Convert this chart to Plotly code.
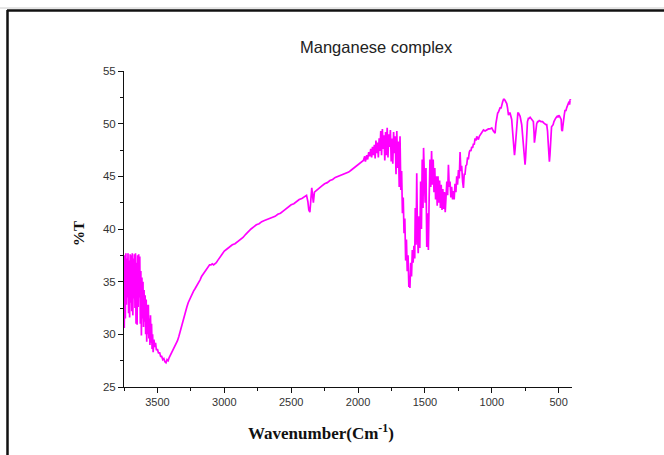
import plotly.graph_objects as go

# IR spectrum of the manganese complex
wavenumber = [
    3748, 3744, 3740, 3736, 3732, 3728, 3724, 3720, 3716, 3712, 3708, 3704, 3700, 3696, 3692, 3688,
    3684, 3680, 3676, 3672, 3668, 3664, 3660, 3656, 3652, 3648, 3644, 3640, 3636, 3632, 3628, 3624,
    3620, 3616, 3612, 3608, 3604, 3600, 3596, 3592, 3588, 3584, 3580, 3576, 3572, 3568, 3564, 3560,
    3556, 3552, 3548, 3544, 3540, 3536, 3532, 3526, 3520, 3514, 3508, 3500, 3492, 3484, 3476, 3468,
    3460, 3452, 3444, 3436, 3428, 3420, 3412, 3404, 3396, 3388, 3380, 3370, 3360, 3350, 3340, 3330,
    3320, 3310, 3300, 3290, 3280, 3270, 3260, 3250, 3240, 3230, 3220, 3210, 3200, 3190, 3180, 3170,
    3160, 3150, 3140, 3130, 3120, 3110, 3100, 3090, 3080, 3070, 3060, 3050, 3040, 3030, 3020, 3010,
    3000, 2980, 2960, 2940, 2920, 2900, 2880, 2860, 2840, 2820, 2800, 2780, 2760, 2740, 2720, 2700,
    2680, 2660, 2640, 2620, 2600, 2580, 2560, 2540, 2520, 2500, 2480, 2460, 2440, 2420, 2400, 2385,
    2375, 2368, 2360, 2352, 2346, 2340, 2334, 2326, 2310, 2290, 2270, 2250, 2230, 2210, 2190, 2170,
    2150, 2130, 2110, 2090, 2070, 2050, 2030, 2010, 1990, 1975, 1960, 1950, 1945, 1935, 1928, 1920,
    1912, 1905, 1898, 1892, 1885, 1878, 1872, 1866, 1860, 1854, 1848, 1842, 1836, 1830, 1824, 1818,
    1812, 1806, 1800, 1794, 1788, 1782, 1776, 1770, 1764, 1758, 1752, 1746, 1740, 1734, 1728, 1722,
    1716, 1710, 1704, 1698, 1692, 1686, 1680, 1674, 1668, 1662, 1656, 1650, 1644, 1638, 1632, 1626,
    1620, 1616, 1612, 1606, 1600, 1594, 1588, 1582, 1576, 1572, 1566, 1561, 1556, 1550, 1544, 1538,
    1532, 1526, 1520, 1514, 1510, 1504, 1498, 1492, 1486, 1480, 1474, 1468, 1462, 1456, 1450, 1444,
    1438, 1432, 1426, 1420, 1414, 1408, 1402, 1396, 1390, 1384, 1378, 1372, 1366, 1360, 1354, 1348,
    1342, 1336, 1330, 1324, 1318, 1312, 1306, 1300, 1293, 1287, 1281, 1275, 1268, 1262, 1256, 1249,
    1243, 1237, 1231, 1225, 1218, 1212, 1206, 1200, 1194, 1187, 1181, 1175, 1168, 1162, 1156, 1150,
    1143, 1137, 1131, 1125, 1118, 1112, 1106, 1100, 1093, 1087, 1081, 1075, 1068, 1062, 1050, 1038,
    1025, 1013, 1000, 988, 982, 975, 969, 963, 956, 950, 944, 938, 930, 924, 918, 912,
    906, 900, 894, 888, 882, 875, 869, 863, 857, 851, 845, 840, 835, 830, 826, 820,
    815, 810, 805, 800, 794, 788, 782, 776, 770, 765, 760, 755, 751, 747, 742, 738,
    733, 726, 720, 713, 707, 701, 695, 689, 684, 681, 677, 673, 668, 664, 657, 651,
    645, 639, 632, 626, 620, 614, 607, 601, 595, 589, 583, 578, 574, 569, 565, 561,
    557, 553, 547, 541, 535, 529, 523, 517, 511, 505, 499, 493, 487, 481, 477, 472,
    468, 464, 458, 452, 446, 440, 434, 428, 422, 418, 414, 410,
]

transmittance = [
    30.6, 37.5, 31.5, 37.7, 32.8, 37.2, 33.5, 37.7, 32.0, 37.0, 31.6, 37.6, 33.0, 37.5, 32.2, 37.7,
    31.8, 37.2, 33.4, 37.6, 32.5, 37.7, 31.0, 36.8, 30.9, 37.5, 32.6, 37.6, 33.5, 37.4, 31.0, 36.0,
    29.9, 35.4, 31.5, 35.0, 30.7, 34.2, 31.2, 33.7, 30.0, 33.3, 29.3, 32.8, 30.0, 32.8, 29.6, 31.5,
    29.0, 31.8, 29.2, 31.0, 28.6, 30.0, 28.3, 29.5, 28.8, 29.2, 28.5, 28.6, 28.2, 28.3, 27.9, 27.9,
    27.6, 27.7, 27.4, 27.3, 27.6, 27.5, 27.8, 28.0, 28.2, 28.5, 28.7, 29.0, 29.1, 29.4, 29.8, 30.3,
    30.8, 31.3, 31.7, 32.1, 32.6, 33.0, 33.3, 33.6, 33.9, 34.1, 34.3, 34.5, 34.7, 35.0, 35.2, 35.5,
    35.7, 35.9, 36.1, 36.3, 36.5, 36.6, 36.6, 36.7, 36.6, 36.7, 36.8, 37.0, 37.2, 37.4, 37.6, 37.7,
    37.9, 38.1, 38.3, 38.5, 38.6, 38.8, 39.0, 39.2, 39.5, 39.8, 40.0, 40.2, 40.4, 40.5, 40.7, 40.8,
    40.9, 41.0, 41.1, 41.2, 41.4, 41.5, 41.7, 41.9, 42.1, 42.3, 42.4, 42.6, 42.8, 42.9, 43.1, 43.2,
    42.6, 41.8, 41.6, 42.8, 43.9, 43.2, 42.5, 43.5, 43.7, 43.9, 44.1, 44.3, 44.4, 44.6, 44.7, 44.9,
    45.0, 45.1, 45.2, 45.3, 45.4, 45.6, 45.8, 46.0, 46.2, 46.4, 46.5, 46.9, 46.4, 47.0, 46.6, 47.3,
    46.9, 47.6, 46.8, 47.8, 47.0, 48.0, 46.7, 48.4, 47.2, 48.2, 46.8, 48.6, 47.4, 49.3, 47.0, 49.5,
    47.6, 48.9, 46.5, 49.2, 47.0, 49.6, 46.8, 49.0, 47.8, 49.4, 46.4, 48.6, 46.2, 49.2, 47.2, 48.8,
    45.2, 49.3, 45.8, 48.3, 44.0, 48.8, 43.7, 45.5, 41.5, 43.0, 39.6, 41.0, 37.0, 39.0, 36.0, 37.5,
    34.5, 35.2, 34.4, 36.8, 35.5, 38.0, 36.8, 38.4, 37.2, 42.0, 38.5, 45.3, 40.0, 37.7, 41.2, 38.2,
    44.5, 40.0, 46.6, 42.0, 47.7, 44.0, 42.5, 45.8, 38.3, 41.5, 38.0, 43.0, 46.6, 44.0, 47.4, 44.2,
    46.6, 43.5, 45.8, 42.8, 45.0, 42.2, 45.0, 42.5, 44.6, 42.0, 44.2, 41.8, 43.8, 41.9, 43.5, 41.6,
    43.8, 44.5, 43.2, 46.1, 44.0, 44.5, 43.0, 44.0, 42.8, 43.6, 42.8, 44.3, 43.5, 45.0, 44.2, 45.6,
    44.8, 47.3, 45.5, 46.0, 44.5, 43.9, 45.2, 45.2, 46.0, 46.1, 46.8, 46.6, 47.3, 47.5, 47.4, 47.8,
    47.7, 48.1, 48.0, 48.6, 48.4, 48.8, 48.6, 48.5, 48.8, 48.9, 49.0, 49.1, 49.2, 49.4, 49.3, 49.4,
    49.5, 49.5, 49.6, 49.3, 49.2, 49.1, 50.0, 50.8, 51.0, 51.1, 51.3, 51.5, 51.5, 51.9, 52.1, 52.3,
    52.3, 52.2, 52.0, 51.9, 51.5, 50.8, 51.0, 51.0, 50.7, 50.4, 49.4, 48.2, 47.2, 47.0, 47.5, 48.5,
    49.8, 50.5, 51.0, 51.0, 50.9, 50.7, 50.3, 49.9, 49.0, 48.0, 47.0, 46.4, 46.1, 46.8, 48.3, 49.6,
    50.2, 50.5, 50.5, 50.6, 50.5, 50.5, 50.4, 50.2, 49.2, 48.2, 48.6, 49.0, 49.7, 50.0, 50.2, 50.2,
    50.3, 50.2, 50.2, 50.2, 50.2, 50.1, 50.0, 50.0, 49.9, 49.9, 49.3, 48.2, 47.2, 46.4, 47.0, 48.0,
    49.0, 49.7, 49.8, 49.9, 50.2, 50.4, 50.5, 50.6, 50.7, 50.6, 50.8, 50.7, 50.6, 50.4, 49.4, 49.3,
    49.8, 50.4, 50.8, 51.3, 51.2, 51.5, 51.7, 51.9, 52.1, 51.8, 52.3, 52.2,
]

x_tick_values = [3500, 3000, 2500, 2000, 1500, 1000, 500]
y_tick_values = [25, 30, 35, 40, 45, 50, 55]

title_text = "Manganese complex"
x_title = "Wavenumber(Cm<sup>-1</sup>)"
y_title = "%T"

fig = go.Figure()
fig.add_trace(go.Scatter(
    x=wavenumber, y=transmittance, mode="lines",
    line=dict(color="#ff00ff", width=1.7),
    hoverinfo="skip", showlegend=False,
))

L, R, T, B = 124, 92, 71, 68
W, H = 664, 455
pw, ph = W - L - R, H - T - B

def px(xp):
    return (xp - L) / pw

def py(yp):
    return (H - B - yp) / ph

fig.update_layout(
    width=W, height=H,
    margin=dict(l=L, r=R, t=T, b=B, pad=0),
    paper_bgcolor="white", plot_bgcolor="white",
    font=dict(family="Liberation Sans, Arial, sans-serif", color="#222222"),
    xaxis=dict(
        range=[3750, 400], autorange=False,
        tickmode="array", tickvals=x_tick_values,
        ticks="outside", ticklen=5, tickwidth=1, tickcolor="#111",
        minor=dict(dtick=250, tick0=250, ticks="outside", ticklen=3, tickcolor="#111"),
        showline=True, linecolor="#111", linewidth=1,
        showgrid=False, zeroline=False,
        tickfont=dict(size=11, color="#333"),
    ),
    yaxis=dict(
        range=[25, 55], autorange=False,
        tickmode="array", tickvals=y_tick_values,
        ticks="outside", ticklen=5, tickwidth=1, tickcolor="#111",
        minor=dict(dtick=2.5, tick0=0, ticks="outside", ticklen=3, tickcolor="#111"),
        showline=True, linecolor="#111", linewidth=1,
        showgrid=False, zeroline=False,
        tickfont=dict(size=11.5, color="#333"),
    ),
    shapes=[
        dict(type="line", xref="paper", yref="paper",
             x0=px(0), x1=px(W), y0=py(8), y1=py(8),
             line=dict(color="#cccccc", width=1)),
        dict(type="line", xref="paper", yref="paper",
             x0=px(7), x1=px(W + 10), y0=py(10.5), y1=py(10.5),
             line=dict(color="#111111", width=2.5)),
        dict(type="line", xref="paper", yref="paper",
             x0=px(7.5), x1=px(7.5), y0=py(10), y1=py(H + 10),
             line=dict(color="#111111", width=2.5)),
    ],
    annotations=[
        dict(text=title_text, xref="paper", yref="paper", x=px(376), y=py(47),
             xanchor="center", yanchor="middle", showarrow=False,
             font=dict(size=16.5, family="Liberation Sans, Arial, sans-serif", color="#222")),
        dict(text="<b>" + x_title + "</b>", xref="paper", yref="paper", x=px(321), y=py(432),
             xanchor="center", yanchor="middle", showarrow=False,
             font=dict(size=17, family="Liberation Serif, Times New Roman, serif", color="#111")),
        dict(text="<b>" + y_title + "</b>", xref="paper", yref="paper", x=px(79), y=py(234),
             xanchor="center", yanchor="middle", showarrow=False, textangle=-90,
             font=dict(size=15, family="Liberation Serif, Times New Roman, serif", color="#111")),
    ],
)

fig.write_html(
    "out.html",
    config={"displayModeBar": False},
    post_script="document.body.style.margin='0';document.body.style.overflow='hidden';",
)
